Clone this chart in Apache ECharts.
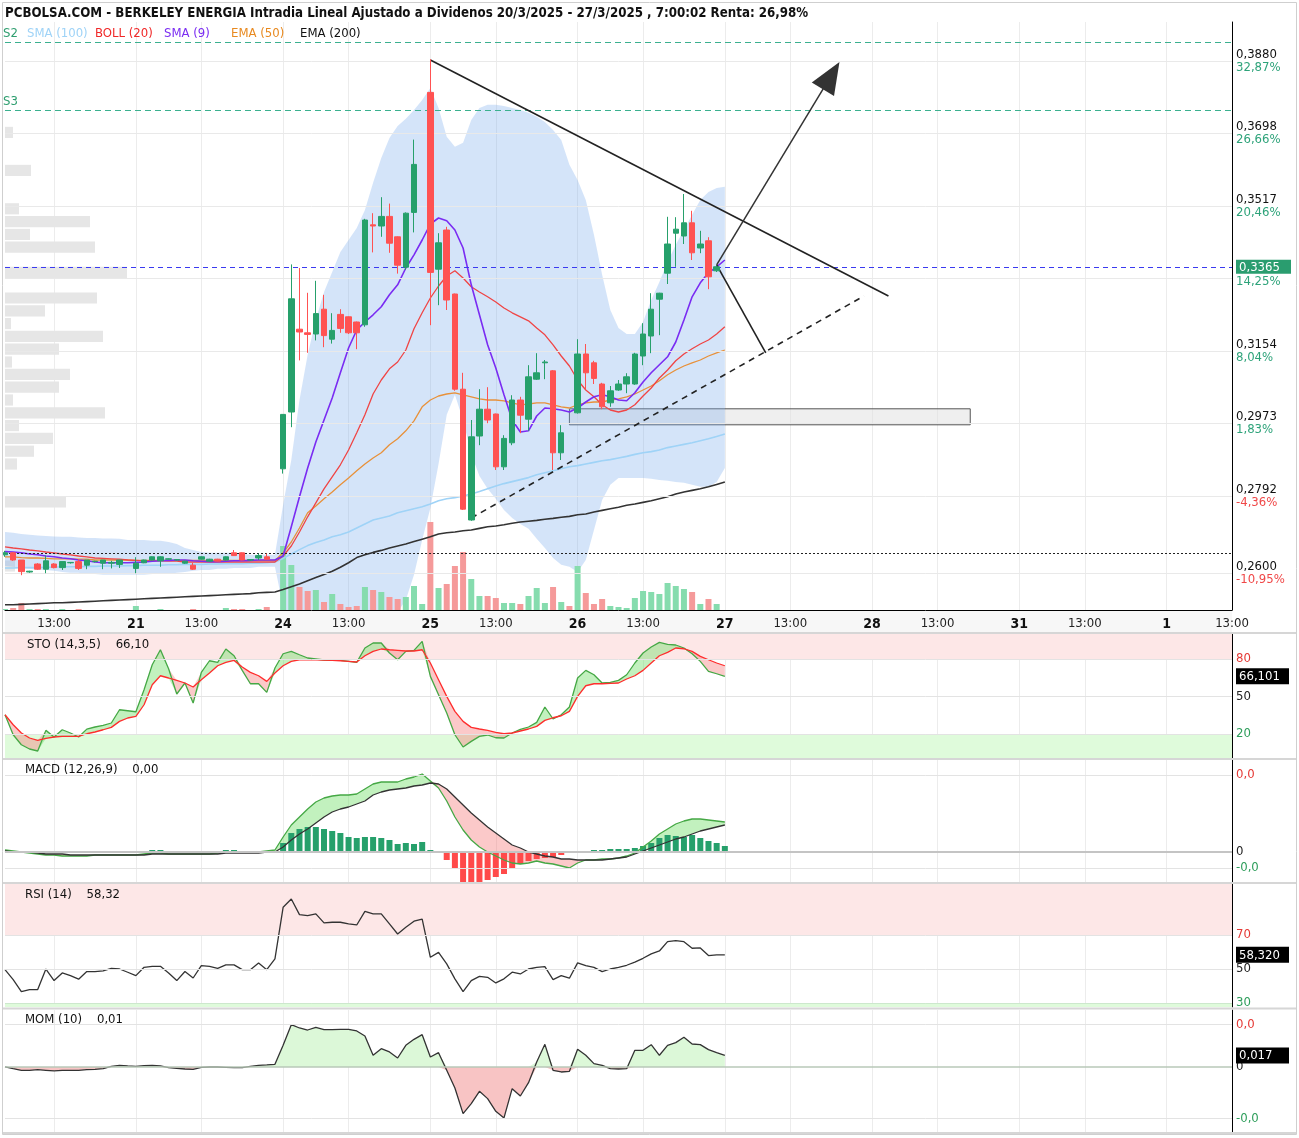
<!DOCTYPE html>
<html><head><meta charset="utf-8">
<script src="https://cdn.jsdelivr.net/npm/echarts@6/dist/echarts.min.js"></script>
<style>html,body{margin:0;padding:0;background:#fff}#c{width:1299px;height:1138px}</style>
</head><body><div id="c"></div>
<script>
const FONT = "'Liberation Sans Narrow','DejaVu Sans Condensed',sans-serif";
// ---------- axis / tick data ----------
const days = ['20','21','24','25','26','27','28','31','1'];
const priceTicks = [0.2600,0.2792,0.2973,0.3154,0.3365,0.3517,0.3698,0.3880];
const pctTicks = ['-10,95%','-4,36%','1,83%','8,04%','14,25%','20,46%','26,66%','32,87%'];
const priceGrid = [0.2600,0.2792,0.2973,0.3154,0.3336,0.3517,0.3698,0.3880];
const lastPrice = 0.3365;
const levelS2 = 0.3927, levelS3 = 0.3757, levelRef = 0.2650;

// ---------- candles [open, high, low, close] per 30-min slot ----------
const candles = [
[0.2645,0.2655,0.2640,0.2650],[0.2650,0.2652,0.2630,0.2632],[0.2632,0.2632,0.2594,0.2603],[0.2602,0.2605,0.2600,0.2604],[0.2622,0.2624,0.2607,0.2609],
[0.2609,0.2643,0.2599,0.2630],[0.2622,0.2624,0.2611,0.2613],[0.2613,0.2628,0.2607,0.2628],[0.2625,0.2627,0.2623,0.2626],[0.2628,0.2634,0.2607,0.2611],
[0.2619,0.2632,0.2609,0.2632],[0.2628,0.2630,0.2626,0.2629],[0.2624,0.2632,0.2609,0.2632],[0.2624,0.2630,0.2611,0.2626],[0.2621,0.2632,0.2612,0.2632],
null,[0.2611,0.2639,0.2599,0.2624],[0.2625,0.2633,0.2624,0.2632],[0.2632,0.2641,0.2631,0.2640],[0.2630,0.2641,0.2615,0.2640],
[0.2634,0.2636,0.2633,0.2635],[0.2632,0.2634,0.2631,0.2633],[0.2624,0.2630,0.2622,0.2629],[0.2619,0.2625,0.2607,0.2609],[0.2634,0.2641,0.2633,0.2640],
[0.2629,0.2635,0.2628,0.2634],[0.2634,0.2635,0.2628,0.2629],[0.2632,0.2641,0.2631,0.2640],[0.2650,0.2657,0.2642,0.2643],[0.2650,0.2651,0.2631,0.2632],
[0.2632,0.2634,0.2630,0.2633],[0.2637,0.2648,0.2632,0.2643],[0.2640,0.2648,0.2633,0.2634],null,
[0.2860,0.2996,0.2848,0.2996],[0.3002,0.3371,0.2964,0.3285],[0.3209,0.3362,0.3131,0.3202],[0.3200,0.3300,0.3150,0.3196],[0.3197,0.3330,0.3181,0.3248],
[0.3259,0.3295,0.3164,0.3193],[0.3184,0.3249,0.3173,0.3206],[0.3246,0.3259,0.3200,0.3211],[0.3240,0.3241,0.3197,0.3200],[0.3227,0.3228,0.3159,0.3200],
[0.3220,0.3485,0.3215,0.3482],[0.3470,0.3499,0.3401,0.3467],[0.3467,0.3539,0.3440,0.3491],[0.3491,0.3523,0.3400,0.3424],[0.3440,0.3441,0.3348,0.3369],
[0.3364,0.3501,0.3357,0.3499],[0.3501,0.3683,0.3451,0.3621],null,
[0.3801,0.3884,0.3219,0.3351],[0.3359,0.3449,0.3269,0.3425],[0.3457,0.3465,0.3257,0.3282],[0.3297,0.3298,0.3055,0.3059],[0.3059,0.3100,0.2757,0.2759],
[0.2732,0.2982,0.2730,0.2940],[0.2942,0.3059,0.2919,0.3009],[0.3009,0.3064,0.2974,0.2982],[0.2997,0.2998,0.2857,0.2865],[0.2865,0.2944,0.2857,0.2936],
[0.2925,0.3044,0.2919,0.3032],[0.3032,0.3040,0.2949,0.2994],[0.2984,0.3119,0.2955,0.3090],[0.3084,0.3149,0.3082,0.3100],[0.3125,0.3132,0.3084,0.3127],
[0.3105,0.3107,0.2857,0.2900],[0.2900,0.2969,0.2882,0.2950],null,
[0.3000,0.3184,0.2998,0.3147],[0.3147,0.3172,0.3059,0.3100],[0.3125,0.3130,0.3072,0.3086],[0.3072,0.3075,0.3009,0.3015],[0.3025,0.3067,0.3015,0.3055],
[0.3057,0.3082,0.3055,0.3072],[0.3072,0.3099,0.3049,0.3090],[0.3072,0.3150,0.3070,0.3147],[0.3142,0.3224,0.3119,0.3197],[0.3192,0.3299,0.3149,0.3259],
[0.3284,0.3300,0.3194,0.3299],[0.3349,0.3490,0.3322,0.3422],[0.3449,0.3489,0.3365,0.3459],[0.3442,0.3547,0.3422,0.3475],[0.3475,0.3505,0.3382,0.3400],
[0.3412,0.3455,0.3399,0.3422],[0.3430,0.3439,0.3309,0.3340],[0.3355,0.3368,0.3352,0.3365],null
];
const volume = [
1,2,7,1,1,1,0,1,0,1, 0,0,0,0,0,0,4,0,0,1, 0,0,0,1,0,0,0,2,1,1, 0,1,3,0,64,45,23,19,20,8,
16,6,3,4,23,20,18,13,11,13, 24,6,88,22,26,44,58,31,14,14, 12,7,7,6,14,22,7,23,8,4,
44,17,6,11,4,3,2,12,19,18, 16,27,24,21,18,6,11,6,0];
const volUpAuction = {15:true,33:true,51:true,69:false,88:true};

// ---------- overlays ----------
const bollUpper = [
0.2702,0.2700,0.2697,0.2695,0.2693,0.2692,0.2691,0.2690,0.2690,0.2688,
0.2687,0.2687,0.2686,0.2686,0.2685,0.2682,0.2682,0.2682,0.2680,0.2680,
0.2677,0.2672,0.2662,0.2657,0.2652,0.2650,0.2650,0.2650,0.2650,0.2647,
0.2645,0.2645,0.2645,0.2645,0.2770,0.2882,0.3032,0.3145,0.3232,0.3302,
0.3352,0.3402,0.3432,0.3462,0.3507,0.3575,0.3637,0.3687,0.3717,0.3735,
0.3757,0.3782,0.3812,0.3762,0.3690,0.3665,0.3675,0.3732,0.3762,0.3770,
0.3770,0.3767,0.3762,0.3757,0.3750,0.3740,0.3727,0.3707,0.3682,0.3620,
0.3582,0.3532,0.3445,0.3345,0.3257,0.3212,0.3197,0.3197,0.3227,0.3282,
0.3327,0.3377,0.3420,0.3457,0.3495,0.3532,0.3552,0.3562,0.3565];
const bollMid = [
0.2665,0.2662,0.2660,0.2657,0.2655,0.2652,0.2650,0.2647,0.2645,0.2642,
0.2640,0.2637,0.2636,0.2635,0.2634,0.2632,0.2631,0.2630,0.2630,0.2630,
0.2629,0.2629,0.2627,0.2627,0.2627,0.2627,0.2627,0.2627,0.2627,0.2627,
0.2627,0.2627,0.2627,0.2627,0.2642,0.2667,0.2702,0.2740,0.2775,0.2810,
0.2840,0.2870,0.2907,0.2950,0.2995,0.3047,0.3082,0.3110,0.3127,0.3157,
0.3210,0.3250,0.3287,0.3317,0.3342,0.3355,0.3337,0.3315,0.3302,0.3290,
0.3277,0.3262,0.3250,0.3240,0.3230,0.3212,0.3195,0.3170,0.3142,0.3117,
0.3082,0.3057,0.3040,0.3020,0.3007,0.3002,0.3007,0.3020,0.3042,0.3062,
0.3087,0.3107,0.3130,0.3147,0.3160,0.3172,0.3182,0.3197,0.3215];
const bollLower = [
0.2617,0.2615,0.2612,0.2610,0.2607,0.2607,0.2605,0.2602,0.2600,0.2600,
0.2597,0.2597,0.2595,0.2595,0.2595,0.2595,0.2595,0.2595,0.2597,0.2597,
0.2597,0.2600,0.2602,0.2605,0.2607,0.2607,0.2610,0.2610,0.2612,0.2612,
0.2612,0.2615,0.2615,0.2615,0.2515,0.2452,0.2372,0.2335,0.2317,0.2317,
0.2327,0.2337,0.2382,0.2437,0.2482,0.2495,0.2502,0.2507,0.2502,0.2532,
0.2595,0.2682,0.2762,0.2872,0.2995,0.3045,0.2982,0.2897,0.2842,0.2810,
0.2785,0.2757,0.2737,0.2722,0.2710,0.2685,0.2662,0.2637,0.2620,0.2615,
0.2602,0.2632,0.2707,0.2782,0.2820,0.2837,0.2837,0.2837,0.2837,0.2835,
0.2832,0.2830,0.2827,0.2825,0.2820,0.2815,0.2815,0.2827,0.2862];
const sma9 = [
0.2653,0.2652,0.2650,0.2647,0.2645,0.2642,0.2640,0.2637,0.2635,0.2632,
0.2630,0.2627,0.2625,0.2625,0.2625,0.2625,0.2626,0.2627,0.2629,0.2630,
0.2631,0.2632,0.2632,0.2630,0.2629,0.2628,0.2628,0.2629,0.2630,0.2630,
0.2631,0.2632,0.2632,0.2632,0.2642,0.2715,0.2790,0.2862,0.2927,0.2982,
0.3037,0.3100,0.3162,0.3207,0.3227,0.3245,0.3265,0.3295,0.3320,0.3362,
0.3395,0.3432,0.3472,0.3487,0.3480,0.3457,0.3412,0.3320,0.3245,0.3170,
0.3112,0.3045,0.2982,0.2952,0.2955,0.2992,0.3012,0.3010,0.3007,0.3002,
0.3012,0.3027,0.3040,0.3045,0.3040,0.3032,0.3030,0.3050,0.3077,0.3100,
0.3120,0.3140,0.3177,0.3232,0.3290,0.3325,0.3350,0.3365,0.3382];
const ema50 = [
0.2640,0.2640,0.2638,0.2637,0.2637,0.2636,0.2635,0.2635,0.2635,0.2634,
0.2634,0.2632,0.2632,0.2632,0.2632,0.2632,0.2631,0.2631,0.2631,0.2631,
0.2631,0.2631,0.2631,0.2631,0.2631,0.2631,0.2631,0.2631,0.2631,0.2631,
0.2631,0.2631,0.2631,0.2631,0.2650,0.2677,0.2712,0.2750,0.2767,0.2785,
0.2802,0.2820,0.2837,0.2855,0.2872,0.2887,0.2900,0.2920,0.2935,0.2955,
0.2980,0.3015,0.3032,0.3042,0.3047,0.3050,0.3045,0.3040,0.3035,0.3032,
0.3032,0.3030,0.3025,0.3020,0.3022,0.3025,0.3025,0.3020,0.3015,0.3012,
0.3020,0.3025,0.3027,0.3027,0.3032,0.3035,0.3040,0.3047,0.3057,0.3067,
0.3080,0.3095,0.3107,0.3117,0.3125,0.3132,0.3142,0.3150,0.3157];
const sma100 = [
0.2612,0.2612,0.2613,0.2613,0.2613,0.2614,0.2614,0.2615,0.2615,0.2615,
0.2616,0.2616,0.2617,0.2617,0.2617,0.2618,0.2618,0.2619,0.2619,0.2619,
0.2620,0.2620,0.2621,0.2621,0.2621,0.2622,0.2622,0.2623,0.2623,0.2623,
0.2624,0.2624,0.2625,0.2627,0.2636,0.2647,0.2658,0.2668,0.2676,0.2682,
0.2690,0.2695,0.2702,0.2712,0.2722,0.2732,0.2737,0.2742,0.2750,0.2755,
0.2760,0.2765,0.2772,0.2780,0.2785,0.2788,0.2792,0.2797,0.2803,0.2810,
0.2817,0.2823,0.2828,0.2833,0.2838,0.2845,0.2850,0.2855,0.2860,0.2865,
0.2868,0.2872,0.2876,0.2880,0.2883,0.2887,0.2891,0.2896,0.2900,0.2903,
0.2907,0.2913,0.2917,0.2921,0.2925,0.2930,0.2935,0.2941,0.2947];
const ema200 = [
0.2520,0.2520,0.2521,0.2522,0.2523,0.2524,0.2525,0.2525,0.2526,0.2527,
0.2528,0.2529,0.2530,0.2531,0.2532,0.2533,0.2534,0.2535,0.2536,0.2537,
0.2538,0.2539,0.2540,0.2541,0.2542,0.2543,0.2544,0.2545,0.2546,0.2547,
0.2548,0.2550,0.2551,0.2552,0.2558,0.2565,0.2572,0.2580,0.2588,0.2596,
0.2604,0.2614,0.2625,0.2638,0.2645,0.2651,0.2656,0.2662,0.2667,0.2672,
0.2678,0.2684,0.2690,0.2697,0.2700,0.2702,0.2705,0.2707,0.2711,0.2715,
0.2717,0.2720,0.2724,0.2727,0.2729,0.2731,0.2734,0.2736,0.2739,0.2741,
0.2745,0.2747,0.2752,0.2756,0.2760,0.2764,0.2769,0.2772,0.2776,0.2780,
0.2785,0.2790,0.2797,0.2802,0.2806,0.2810,0.2815,0.2821,0.2827];
// volume profile [price bucket centre, relative volume]
const profileStep = 0.00319;
const profile = [
[0.3701,8],[0.3606,26],[0.3510,14],[0.3478,85],[0.3446,25],[0.3414,90],[0.3351,122],[0.3287,92],
[0.3255,40],[0.3223,6],[0.3191,98],[0.3159,54],[0.3127,7],[0.3096,65],[0.3064,54],[0.3032,8],
[0.3000,100],[0.2968,14],[0.2936,48],[0.2904,29],[0.2872,12],[0.2777,61],[0.2617,10]];

// ---------- indicators ----------
const stoK = [
35.4,19.4,11.4,8.0,6.4,22.9,17.6,23.4,20.8,17.6, 23.9,25.6,26.9,28.8,39.4,38.6,37.8,55.4,75.4,87.4,
72.2,52.0,60.8,44.8,69.3,78.6,77.3,88.0,82.6,70.9, 60.2,60.2,53.3,72.8,84.2,86.1,83.4,80.8,80.0,79.2,
78.9,78.9,78.1,77.3,88.8,92.8,92.8,84.8,79.4,86.1, 86.9,94.1,66.1,51.4,36.8,19.4,9.6,14.1,18.1,19.2,
17.0,16.8,20.8,23.7,25.6,29.3,41.6,32.0,35.4,41.6, 64.8,70.9,67.4,60.8,61.3,62.9,67.4,76.8,84.8,89.6,
93.3,91.7,91.2,88.8,84.2,78.1,70.1,68.2,66.101];
const stoD = [
35.4,27.4,20.8,16.8,14.9,16.5,17.6,18.1,18.1,18.1, 20.2,21.6,23.4,25.3,30.1,32.8,34.1,43.4,59.4,66.6,
64.8,62.9,60.8,57.6,63.4,68.8,74.6,77.3,78.9,73.6, 69.3,66.6,62.1,68.8,74.6,78.1,79.4,79.4,79.4,79.2,
78.9,78.6,78.1,77.6,82.6,86.1,88.0,87.4,86.9,86.4, 86.4,87.4,76.8,63.4,50.1,38.1,30.1,25.3,24.0,22.9,
21.3,20.2,20.8,22.4,24.0,26.1,30.9,33.0,34.6,38.1, 50.1,58.6,60.2,60.2,60.5,60.8,64.0,66.6,70.9,76.8,
82.6,85.3,88.8,88.2,86.1,82.1,79.4,76.8,74.6];
const macd = [
0.0002,0.0001,0,-0.0001,-0.0002,-0.0003,-0.0003,-0.0004,-0.0004,-0.0004,
-0.0004,-0.0003,-0.0003,-0.0003,-0.0003,-0.0003,-0.0003,-0.0002,-0.0001,-0.0001,
-0.0002,-0.0002,-0.0002,-0.0002,-0.0002,-0.0002,-0.0001,0,0,0,
0,0,0.0001,0.0002,0.0015,0.0027,0.0035,0.0043,0.0050,0.0054,
0.0056,0.0057,0.0057,0.0058,0.0063,0.0068,0.0070,0.0070,0.0070,0.0073,
0.0075,0.0078,0.0071,0.0064,0.0051,0.0035,0.0022,0.0012,0.0005,0,
-0.0004,-0.0008,-0.0011,-0.0012,-0.0011,-0.0009,-0.0011,-0.0012,-0.0014,-0.0016,
-0.0011,-0.0008,-0.0008,-0.0007,-0.0007,-0.0006,-0.0004,-0.0001,0.0005,0.0011,
0.0018,0.0023,0.0028,0.0031,0.0033,0.0033,0.0032,0.0031,0.0030];
const macdSignal = [
0.0001,0,0,0,-0.0001,-0.0002,-0.0002,-0.0002,-0.0003,-0.0003,
-0.0003,-0.0003,-0.0003,-0.0003,-0.0003,-0.0003,-0.0003,-0.0003,-0.0002,-0.0002,
-0.0002,-0.0002,-0.0002,-0.0002,-0.0002,-0.0002,-0.0002,-0.0001,-0.0001,-0.0001,
-0.0001,-0.0001,0,0,0.0005,0.0012,0.0018,0.0023,0.0029,0.0035,
0.0040,0.0043,0.0045,0.0048,0.0051,0.0057,0.0060,0.0062,0.0063,0.0064,
0.0066,0.0067,0.0069,0.0068,0.0063,0.0055,0.0047,0.0039,0.0032,0.0025,
0.0019,0.0013,0.0007,0.0004,0,-0.0002,-0.0004,-0.0005,-0.0007,-0.0007,
-0.0008,-0.0008,-0.0008,-0.0008,-0.0007,-0.0006,-0.0005,-0.0002,0.0001,0.0004,
0.0007,0.0010,0.0013,0.0015,0.0018,0.0021,0.0023,0.0025,0.0027];
const macdHist = [
0,0,0,0,-0.0001,-0.0001,-0.0001,-0.0001,-0.0001,-0.0001,
-0.0001,0,0,0,0,0,0,0,0.0002,0.0002,
0,0,0,0,0,0,0,0.0002,0.0002,0.0001,
0,0,0,0,0.0009,0.0019,0.0023,0.0025,0.0025,0.0023,
0.0021,0.0019,0.0015,0.0014,0.0015,0.0015,0.0014,0.0012,0.0008,0.0009,
0.0008,0.0010,0.0002,-0.0001,-0.0008,-0.0016,-0.0030,-0.0030,-0.0030,-0.0028,
-0.0025,-0.0022,-0.0016,-0.0012,-0.0009,-0.0007,-0.0006,-0.0005,-0.0003,-0.0001,
-0.0001,0,0.0002,0.0002,0.0003,0.0003,0.0003,0.0004,0.0006,0.0009,
0.0014,0.0017,0.0016,0.0015,0.0017,0.0014,0.0011,0.0009,0.0006];
const rsi = [
49.6,43.8,36.7,37.9,37.9,50.0,43.2,47.7,46.1,44.0, 48.5,48.5,48.9,50.4,50.0,48.1,46.1,51.0,51.6,51.6,
47.7,43.2,48.5,44.7,52.0,51.6,50.4,52.4,52.4,49.6, 49.6,53.6,49.6,55.9,86.3,91.2,82.0,81.4,82.4,77.1,
77.5,77.5,76.5,75.9,83.9,82.4,82.4,76.5,70.6,74.5, 78.1,79.4,56.9,59.8,53.0,44.2,36.7,43.2,45.7,45.1,
41.8,44.2,48.1,47.1,50.0,51.0,51.4,43.8,46.1,44.6, 53.6,52.0,51.0,48.5,50.0,51.0,52.2,54.0,56.3,58.9,
60.6,66.1,66.7,66.1,62.2,62.4,57.9,58.3,58.32];
const mom = [
0,-0.0025,-0.0049,-0.0049,-0.0039,-0.0049,-0.0059,-0.0049,-0.0049,-0.0049,
-0.0039,-0.0035,-0.0025,0.0010,0.0025,0.0015,0.0010,0.0020,0.0025,0.0015,
-0.0010,-0.0020,-0.0030,-0.0035,-0.0005,0,0,-0.0005,-0.0010,-0.0010,
0.0010,0.0025,0.0030,0.0039,0.0320,0.0626,0.0577,0.0547,0.0587,0.0552,
0.0552,0.0557,0.0557,0.0533,0.0459,0.0173,0.0271,0.0222,0.0133,0.0320,
0.0409,0.0478,0.0148,0.0212,-0.0049,-0.0311,-0.0690,-0.0542,-0.0360,-0.0468,
-0.0656,-0.0754,-0.0321,-0.0429,-0.0232,0.0074,0.0335,-0.0049,-0.0074,-0.0064,
0.0261,0.0173,0.0049,0.0025,-0.0025,-0.0030,-0.0025,0.0247,0.0247,0.0330,
0.0173,0.0320,0.0360,0.0439,0.0340,0.0330,0.0256,0.0212,0.0170];

// sub-panel ticks
const stoTicks = [20,50,66.101,80], stoTickText = ['20','50','66,101','80'], stoTickStyle = ['g','n','box','r'];
const macdTicks = [-0.0016,0,0.0077], macdTickText = ['-0,0','0','0,0'], macdTickStyle = ['g','n','r'];
const rsiTicks = [30,50,58.32,70], rsiTickText = ['30','50','58,320','70'], rsiTickStyle = ['g','n','box','r'];
const momTicks = [-0.0765,0,0.017,0.0626], momTickText = ['-0,0','0','0,017','0,0'], momTickStyle = ['g','n','box','r'];

// hand-drawn chart annotations: [slot, price]
const trendTop = [[52.2,0.3882],[107.8,0.3292]];
const trendBottom = [[56.6,0.2737],[105.1,0.3292]];
const arrowUp = [[87.2,0.3370],[100.9,0.3843]];
const legDown = [[87.2,0.3370],[92.5,0.3150]];
const boxZone = [[68.5,0.3010],[117.7,0.2970]];

// ---------- build ----------
const N = 151;
const cats = Array.from({length:N}, (_, i) => String(i));
function slotLabel(i){ const s=(i+2)%18, d=Math.floor((i+2)/18); if(s===0) return '{d|'+days[d]+'}'; if(s===8) return '13:00'; return ''; }
const isTick = (i) => slotLabel(i) !== '';
const GREEN='#26a06b', RED='#ff5252';
const L = 5, R = 67;

function xAx(gi, labels){
  return {type:'category', gridIndex:gi, data:cats, boundaryGap:false,
    axisLine:{show:labels, lineStyle:{color:'#000', width:1}}, axisTick:{show:false},
    axisLabel:{show:labels, interval:(i)=>isTick(i), formatter:(v,i)=>slotLabel(+v), margin:7,
      color:'#222', fontFamily:FONT, fontSize:13, rich:{d:{fontWeight:'bold', fontSize:14, color:'#111', fontFamily:FONT}}},
    splitLine:{show:true, interval:(i)=>isTick(i), lineStyle:{color:'#ececec', width:1}}};
}
const richBase = {
  n:{color:'#222', fontFamily:FONT, fontSize:13},
  r:{color:'#e53935', fontFamily:FONT, fontSize:13},
  g:{color:'#2e9e5b', fontFamily:FONT, fontSize:13},
  box:{color:'#fff', backgroundColor:'#000', fontFamily:FONT, fontSize:13, padding:[2,4,1,3], width:46}
};
function subY(gi, min, max, ticks, texts, styles){
  return {type:'value', gridIndex:gi, position:'right', min, max, scale:true,
    axisLine:{show:true, lineStyle:{color:'#000'}}, axisTick:{show:false}, splitLine:{show:false},
    axisLabel:{customValues:ticks, margin:4, formatter:(v)=>{const i=ticks.findIndex(t=>Math.abs(t-v)<1e-9); return i<0?'':'{'+styles[i]+'|'+texts[i]+'}';}, rich:richBase}};
}
const hline = (v, color, width, type) => ({yAxis:v, lineStyle:{color, width, type}, label:{show:false}, symbol:'none'});
const mk = (data) => ({silent:true, symbol:'none', precision:6, animation:false, label:{show:false}, data});

const candleData = candles.map(c => c ? [c[0], c[3], c[2], c[1]] : ['-','-','-','-']);
const volData = volume.map((v,i)=>{
  const c = candles[i];
  const up = c ? c[3] >= c[0] : (volUpAuction[i] !== false);
  return {value:v, itemStyle:{color: up ? '#86dcae' : '#f59a9a'}};
});
const bbDiff = bollUpper.map((u,i)=> +(u - bollLower[i]).toFixed(5));
const minOf = (a,b)=>a.map((v,i)=>Math.min(v,b[i]));
const upPart = (a,b)=>a.map((v,i)=>v>b[i]? +(v-b[i]).toFixed(6):0);
const dnPart = (a,b)=>a.map((v,i)=>v<b[i]? +(b[i]-v).toFixed(6):0);
const noLine = {opacity:0, width:0};
function lineS(xi, yi, data, color, width, z){ return {type:'line', xAxisIndex:xi, yAxisIndex:yi, data, symbol:'none', smooth:false, lineStyle:{color, width}, z: z||4, silent:true}; }
function areaS(xi, yi, data, color, stack, z){ return {type:'line', xAxisIndex:xi, yAxisIndex:yi, data, symbol:'none', stack, stackStrategy:'all', lineStyle:noLine, areaStyle: color?{color, opacity:1}:undefined, z: z||2, silent:true}; }

const seg = (p, style) => [Object.assign({coord:p[0], symbol:'none'}, style||{}), {coord:p[1], symbol:'none'}];

const option = {
  animation:false,
  textStyle:{fontFamily:FONT},
  grid:[
    {left:L, right:R, top:22, height:588},
    {left:L, right:R, top:22, height:588},
    {left:L, right:R, top:634, height:125},
    {left:L, right:R, top:760, height:122},
    {left:L, right:R, top:884, height:123},
    {left:L, right:R, top:1010, height:122}
  ],
  xAxis:[ xAx(0,true), {type:'value', gridIndex:1, min:0, max:1227, show:false}, xAx(2,false), xAx(3,false), xAx(4,false), xAx(5,false) ],
  yAxis:[
    {type:'value', gridIndex:0, position:'right', min:0.2507, max:0.3977, scale:true,
      axisLine:{show:true, lineStyle:{color:'#000'}}, axisTick:{show:false}, splitLine:{show:false},
      axisLabel:{customValues:priceTicks, margin:4, formatter:(v)=>{
        const i = priceTicks.findIndex(t=>Math.abs(t-v)<1e-9); if(i<0) return '';
        const s = priceTicks[i].toFixed(4).replace('.', ',');
        const pc = pctTicks[i], ps = pc.charAt(0)==='-' ? 'pr' : 'pg';
        if (Math.abs(priceTicks[i]-lastPrice)<1e-9) return '{sp| }\n{bx|'+s+'}\n{'+ps+'|'+pc+'}';
        return '{p|'+s+'}\n{'+ps+'|'+pc+'}';
      }, rich:{
        p:{color:'#111', fontFamily:FONT, fontSize:13, lineHeight:13},
        pg:{color:'#2ea37a', fontFamily:FONT, fontSize:13, lineHeight:13},
        pr:{color:'#f04848', fontFamily:FONT, fontSize:13, lineHeight:13},
        sp:{fontSize:6, lineHeight:13},
        bx:{color:'#fff', backgroundColor:'#2a9d6f', fontFamily:FONT, fontSize:13, lineHeight:17, padding:[1,4,0,3], width:48}
      }}},
    {type:'value', gridIndex:0, min:0, max:588, show:false},
    {type:'value', gridIndex:1, min:0.2507, max:0.3977, show:false},
    subY(2, 0, 100, stoTicks, stoTickText, stoTickStyle),
    subY(3, -0.0030, 0.0092, macdTicks, macdTickText, macdTickStyle),
    subY(4, 27.65, 100, rsiTicks, rsiTickText, rsiTickStyle),
    subY(5, -0.0962, 0.0843, momTicks, momTickText, momTickStyle)
  ],
  series:[
    // volume profile
    {type:'custom', xAxisIndex:1, yAxisIndex:2, z:1, silent:true,
      data: profile.map(p=>[p[1], p[0]]),
      renderItem:(params, api)=>{
        const v = api.value(0), p = api.value(1);
        const a = api.coord([0, p + profileStep/2]), b = api.coord([v, p - profileStep/2]);
        return {type:'rect', shape:{x:a[0], y:a[1]+0.8, width:b[0]-a[0], height:Math.max(0,b[1]-a[1]-1.6)}, style:{fill:'#e6e6e6'}};
      }},
    // bollinger band
    Object.assign(areaS(0,0,bollLower,null,'bb',1), {markLine: mk(priceGrid.map(v=>hline(v,'#e9e9e9',1,'solid')))}),
    areaS(0,0,bbDiff,'rgba(120,170,235,0.32)','bb',2),
    // volume
    {type:'bar', xAxisIndex:0, yAxisIndex:1, data:volData, barWidth:6, z:3, silent:true},
    lineS(0,0,sma100,'#9fd3f7',1.6),
    lineS(0,0,ema200,'#333',1.6),
    lineS(0,0,ema50,'#e8913a',1.3),
    lineS(0,0,bollMid,'#f04545',1.3),
    lineS(0,0,sma9,'#7a2cf2',1.6),
    {type:'candlestick', xAxisIndex:0, yAxisIndex:0, data:candleData, barWidth:6, z:5, silent:true,
      itemStyle:{color:GREEN, color0:RED, borderColor:GREEN, borderColor0:RED, borderWidth:1}},
    // horizontal levels + drawings
    {type:'line', xAxisIndex:0, yAxisIndex:0, data:[], z:8, silent:true,
      markLine: mk([
          {yAxis:levelS2, symbol:'none', lineStyle:{color:'#3bb08f', width:1.2, type:[6,4]}, label:{show:true, position:'insideStartTop', formatter:'S2', color:'#2e9e6f', fontFamily:FONT, fontSize:13, distance:[-2,2]}},
          {yAxis:levelS3, symbol:'none', lineStyle:{color:'#3bb08f', width:1.2, type:[6,4]}, label:{show:true, position:'insideStartTop', formatter:'S3', color:'#2e9e6f', fontFamily:FONT, fontSize:13, distance:[-2,2]}},
          hline(lastPrice, '#3a3af0', 1.2, [5,4]),
          hline(levelRef, '#222', 1, [2,2]),
          seg(trendTop, {lineStyle:{color:'#222', width:1.6, type:'solid'}}),
          seg(trendBottom, {lineStyle:{color:'#222', width:1.6, type:[6,5]}}),
          seg(legDown, {lineStyle:{color:'#222', width:1.6, type:'solid'}}),
          [ {coord:arrowUp[0], symbol:'none', lineStyle:{color:'#333', width:1.5, type:'solid'}}, {coord:arrowUp[1], symbol:'triangle', symbolSize:[26,32]} ]
        ]),
      markArea:{silent:true, itemStyle:{color:'rgba(225,225,225,0.55)', borderColor:'#555', borderWidth:1},
        data:[[{coord:boxZone[0]},{coord:boxZone[1]}]]}},
    // STO
    Object.assign(areaS(2,3,minOf(stoK,stoD),null,'sto',1), {markArea:{silent:true, data:[
        [{yAxis:80, itemStyle:{color:'#fde7e7'}},{yAxis:100}],
        [{yAxis:0, itemStyle:{color:'#dffbdb'}},{yAxis:20}]]},
      markLine: mk([hline(80,'#e3e3e3',1,'solid'),hline(50,'#e3e3e3',1,'solid'),hline(20,'#e3e3e3',1,'solid')])}),
    areaS(2,3,upPart(stoK,stoD),'rgba(120,225,110,0.45)','sto',2),
    areaS(2,3,dnPart(stoK,stoD),'rgba(245,120,120,0.4)','sto',2),
    lineS(2,3,stoK,'#45a845',1.3),
    lineS(2,3,stoD,'#ff2d2d',1.3),
    // MACD
    Object.assign(areaS(3,4,minOf(macd,macdSignal),null,'macd',1), {markLine: mk([hline(0.0077,'#e3e3e3',1,'solid'),hline(-0.0016,'#e3e3e3',1,'solid'),hline(0,'#c4c4c4',2,'solid')])}),
    {type:'bar', xAxisIndex:3, yAxisIndex:4, barWidth:6, z:3, silent:true,
      data: macdHist.map(v=>({value:v, itemStyle:{color: v>=0 ? GREEN : '#ff4a4a'}}))},
    areaS(3,4,upPart(macd,macdSignal),'rgba(120,225,110,0.45)','macd',2),
    areaS(3,4,dnPart(macd,macdSignal),'rgba(245,120,120,0.4)','macd',2),
    lineS(3,4,macd,'#45a845',1.3),
    lineS(3,4,macdSignal,'#333',1.3),
    // RSI
    Object.assign(lineS(4,5,rsi,'#333',1.3), {markArea:{silent:true, data:[
        [{yAxis:70, itemStyle:{color:'#fde7e7'}},{yAxis:100}],
        [{yAxis:27.65, itemStyle:{color:'#dffbdb'}},{yAxis:30}]]},
      markLine: mk([hline(70,'#e3e3e3',1,'solid'),hline(50,'#e3e3e3',1,'solid'),hline(30,'#cde8cd',1,'solid')])}),
    // MOM
    Object.assign({type:'line', xAxisIndex:5, yAxisIndex:6, data:mom.map(v=>Math.max(v,0)), symbol:'none', lineStyle:noLine, areaStyle:{color:'#dcf8d8', opacity:1, origin:0}, z:2, silent:true},
      {markLine: mk([hline(0.0626,'#e3e3e3',1,'solid'),hline(-0.0765,'#e3e3e3',1,'solid'),hline(0,'#b9c9b9',1.5,'solid')])}),
    {type:'line', xAxisIndex:5, yAxisIndex:6, data:mom.map(v=>Math.min(v,0)), symbol:'none', lineStyle:noLine, areaStyle:{color:'#f8c4c4', opacity:1, origin:0}, z:2, silent:true},
    lineS(5,6,mom,'#333',1.3)
  ],
  graphic:[
    {type:'rect', z:-10, shape:{x:L, y:611, width:1227, height:21}, style:{fill:'#f7f7f7'}, silent:true},
    {type:'rect', z:100, shape:{x:2.5, y:2.5, width:1294, height:1132}, style:{fill:null, stroke:'#cfcfcf', lineWidth:1}, silent:true},
    {type:'line', z:100, shape:{x1:3, y1:633, x2:1296, y2:633}, style:{stroke:'#d6d6d6', lineWidth:2}, silent:true},
    {type:'line', z:100, shape:{x1:3, y1:759, x2:1296, y2:759}, style:{stroke:'#d6d6d6', lineWidth:2}, silent:true},
    {type:'line', z:100, shape:{x1:3, y1:883, x2:1296, y2:883}, style:{stroke:'#d6d6d6', lineWidth:2}, silent:true},
    {type:'line', z:100, shape:{x1:3, y1:1008.5, x2:1296, y2:1008.5}, style:{stroke:'#d6d6d6', lineWidth:2}, silent:true},
    {type:'line', z:100, shape:{x1:3, y1:1133, x2:1296, y2:1133}, style:{stroke:'#d6d6d6', lineWidth:2}, silent:true},
    {type:'text', z:100, x:5, y:7, style:{text:'PCBOLSA.COM - BERKELEY ENERGIA Intradia Lineal Ajustado a Dividenos 20/3/2025 - 27/3/2025 , 7:00:02 Renta: 26,98%', fill:'#111', font:'bold 13.2px '+FONT}},
    {type:'text', z:100, x:27, y:27, style:{text:'SMA (100)', fill:'#9fd3f7', font:'13px '+FONT}},
    {type:'text', z:100, x:95, y:27, style:{text:'BOLL (20)', fill:'#f02828', font:'13px '+FONT}},
    {type:'text', z:100, x:164, y:27, style:{text:'SMA (9)', fill:'#7a2cf2', font:'13px '+FONT}},
    {type:'text', z:100, x:231, y:27, style:{text:'EMA (50)', fill:'#e8891f', font:'13px '+FONT}},
    {type:'text', z:100, x:300, y:27, style:{text:'EMA (200)', fill:'#111', font:'13px '+FONT}},
    {type:'text', z:100, x:27, y:638, style:{text:'STO (14,3,5)    66,10', fill:'#111', font:'13px '+FONT}},
    {type:'text', z:100, x:25, y:763, style:{text:'MACD (12,26,9)    0,00', fill:'#111', font:'13px '+FONT}},
    {type:'text', z:100, x:25, y:888, style:{text:'RSI (14)    58,32', fill:'#111', font:'13px '+FONT}},
    {type:'text', z:100, x:25, y:1013, style:{text:'MOM (10)    0,01', fill:'#111', font:'13px '+FONT}}
  ]
};
const chart = echarts.init(document.getElementById('c'));
chart.setOption(option);
</script></body></html>
